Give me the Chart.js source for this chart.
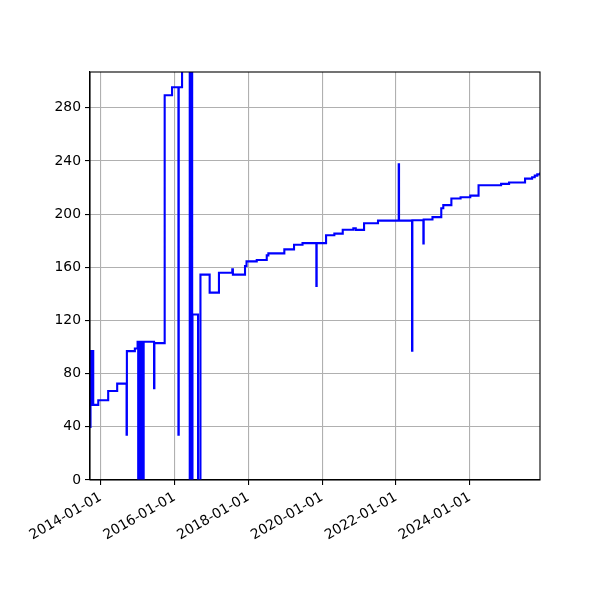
<!DOCTYPE html>
<html>
<head>
<meta charset="utf-8">
<script src="https://cdn.jsdelivr.net/npm/chart.js@4"></script>
<style>
html,body{margin:0;padding:0;background:#fff;}
#wrap{width:600px;height:600px;}
</style>
</head>
<body>
<div id="wrap"><canvas id="c" width="600" height="600"></canvas></div>
<script>
const dates = [
 '2013-09-18','2013-09-22','2013-09-25','2013-09-28','2013-10-02','2013-10-06','2013-10-10','2013-10-14','2013-10-19',
 '2013-12-08','2014-03-16','2014-06-13','2014-09-14','2014-09-17','2014-12-05','2015-01-01',
 '2015-01-07','2015-01-12','2015-01-17','2015-01-22','2015-01-27','2015-02-01','2015-02-06','2015-02-11','2015-02-16','2015-02-21','2015-02-26','2015-03-02',
 '2015-06-13','2015-06-16','2015-09-26','2015-12-08','2016-02-09','2016-02-12','2016-03-16',
 '2016-05-31','2016-06-04','2016-06-08','2016-06-12','2016-06-16','2016-06-20','2016-06-24','2016-06-27',
 '2016-08-21','2016-09-14','2016-12-14','2017-03-16','2017-07-26','2017-08-01','2017-11-29','2017-12-14',
 '2018-03-25','2018-07-02','2018-07-18','2018-12-23','2019-03-29','2019-06-21','2019-11-05','2019-11-08',
 '2020-02-09','2020-05-01','2020-07-23','2020-11-05','2020-11-29','2021-02-19','2021-07-07',
 '2022-01-28','2022-01-31','2022-06-09','2022-06-12','2022-09-29','2022-10-02','2022-12-28',
 '2023-03-25','2023-04-14','2023-07-03','2023-10-02','2024-01-06','2024-03-28','2024-11-06','2025-01-24',
 '2025-07-01','2025-09-09','2025-10-05','2025-10-30','2025-11-27'
];
const values = [
 40,97,56.5,97,56.5,97,56.5,97,56.5,
 60,67,72.5,34,97,99,104,
 0,104,0,104,0,104,0,104,0,104,0,104,
 69,103,289.5,295.5,34,295.5,330,
 0,330,0,330,0,330,0,124.5,
 0,154.5,141,156,158.5,154.5,161,164.5,
 165.5,169,170.5,173.5,177,178.2,146,178.2,
 184.2,185.4,188.3,189.4,188.2,193.2,195.2,
 237.6,195.2,97.3,195.5,178,196,197.8,
 204.5,206.8,211.8,212.8,214,221.8,222.8,223.8,
 226.8,227.8,229,230,231.3
];
const xMin = '2013-09-17';
const xMax = '2025-11-26';
const xTickDates = ['2014-01-01','2016-01-01','2018-01-01','2020-01-01','2022-01-01','2024-01-01'];
const xTickLabels = ['2014-01-01','2016-01-01','2018-01-01','2020-01-01','2022-01-01','2024-01-01'];
const yTicks = [0,40,80,120,160,200,240,280];
const yMin = 0, yMax = 307;

const points = dates.map((d,i)=>({x: Date.parse(d), y: values[i]}));

const frame = {
  id:'frame',
  afterDatasetsDraw(chart){
    const {ctx, chartArea:a} = chart;
    ctx.save();
    ctx.strokeStyle='#000';
    ctx.lineWidth=1.1;
    ctx.strokeRect(a.left, a.top, a.right-a.left, a.bottom-a.top);
    ctx.restore();
  }
};

const font = {family:'DejaVu Sans', size:13.9};

new Chart(document.getElementById('c'), {
  type:'line',
  data:{datasets:[{
    data: points,
    stepped:'before',
    borderColor:'#0000ff',
    borderWidth:2.1,
    pointRadius:0,
    fill:false,
    tension:0
  }]},
  options:{
    responsive:false,
    animation:false,
    events:[],
    layout:{padding:{left:0,top:72,right:60,bottom:0}},
    plugins:{legend:{display:false},tooltip:{enabled:false}},
    scales:{
      x:{
        type:'linear',
        min: Date.parse(xMin),
        max: Date.parse(xMax),
        afterBuildTicks(s){ s.ticks = xTickDates.map(d=>({value:Date.parse(d)})); },
        afterFit(s){ s.height = 120; s.paddingLeft=0; s.paddingRight=0; },
        ticks:{
          autoSkip:false, maxRotation:30, minRotation:30, padding:4,
          color:'#000', font,
          callback:(v,i)=>xTickLabels[i]
        },
        grid:{color:'#b0b0b0', lineWidth:1.1, tickLength:5, tickColor:'#000', tickWidth:1.1},
        border:{display:true,color:'#000',width:1.1}
      },
      y:{
        min:yMin, max:yMax,
        afterBuildTicks(s){ s.ticks = yTicks.map(v=>({value:v})); },
        afterFit(s){ s.width = 90; s.paddingTop=0; s.paddingBottom=0; },
        ticks:{color:'#000', font, padding:4, callback:(v)=>String(v)},
        grid:{color:'#b0b0b0', lineWidth:1.1, tickLength:5, tickColor:'#000', tickWidth:1.1},
        border:{display:true,color:'#000',width:1.1}
      }
    }
  },
  plugins:[frame]
});
</script>
</body>
</html>
